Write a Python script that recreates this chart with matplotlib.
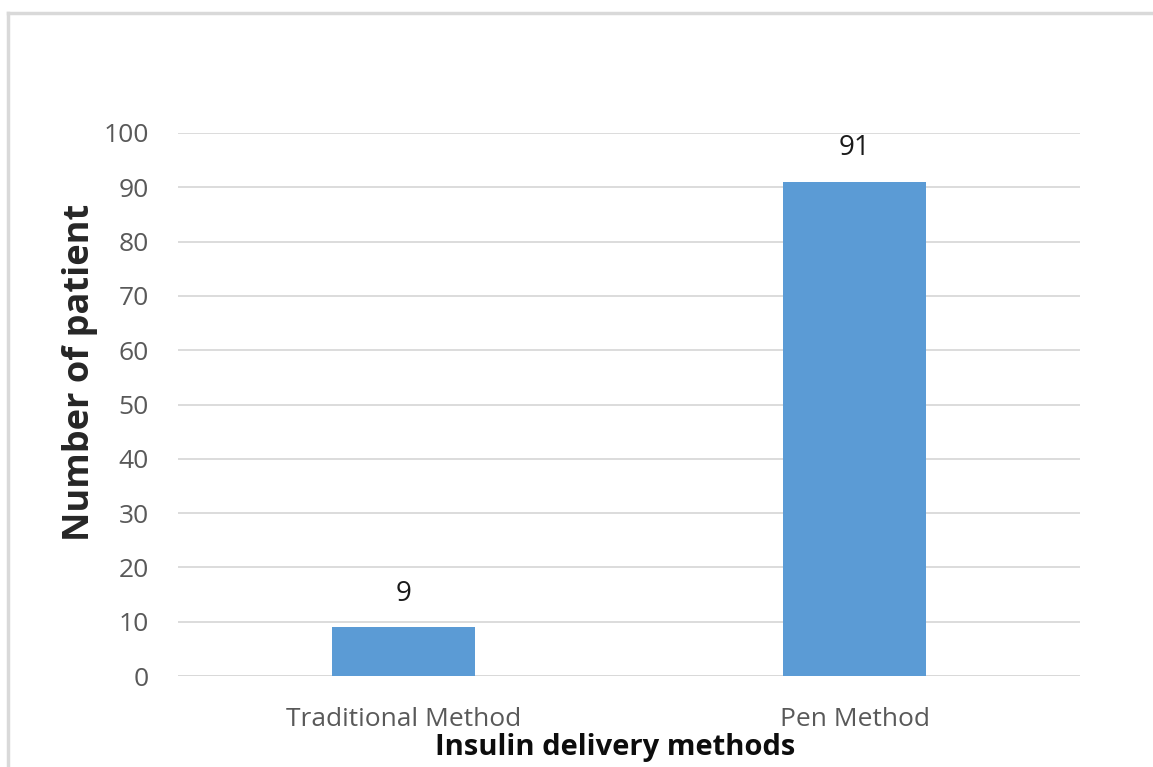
import matplotlib.pyplot as plt
from matplotlib.lines import Line2D

BAR   = "#5B9BD5"
GRID  = "#D9D9D9"
TICK  = "#595959"
FRAME = "#D9D9D9"

methods  = ["Traditional Method", "Pen Method"]
patients = [9, 91]
yticks   = [0, 10, 20, 30, 40, 50, 60, 70, 80, 90, 100]

plt.rcParams["font.family"] = ["Open Sans", "DejaVu Sans"]

fig = plt.figure(figsize=(11.53, 7.67), dpi=100)
ax = fig.add_axes([178 / 1153, 1 - 676 / 767, 902 / 1153, 543 / 767])

x = range(len(methods))
bars = ax.bar(x, patients, width=0.315, color=BAR, zorder=3)
for b, v in zip(bars, patients):
    ax.annotate(f"{v}", (b.get_x() + b.get_width() / 2, v),
                xytext=(0, 14), textcoords="offset points",
                ha="center", va="bottom", fontsize=20, color="#1a1a1a")

ax.set_xlim(-0.5, 1.5)
ax.set_ylim(0, 100)
ax.set_yticks(yticks)
ax.set_xticks(list(x))
ax.set_xticklabels(methods)
ax.yaxis.grid(True, color=GRID, lw=1.3, zorder=0)
ax.tick_params(axis="both", length=0, colors=TICK, labelsize=19)
ax.tick_params(axis="y", pad=21)
ax.tick_params(axis="x", pad=22)
for s in ax.spines.values():
    s.set_visible(False)
ax.axhline(0, color=GRID, lw=1.3, zorder=1)

fig.text(80 / 1153, 1 - 372 / 767, "Number of patient", rotation=90,
         ha="center", va="center", fontsize=26, fontweight="bold",
         color="#262626")
fig.text(615 / 1153, 1 - 748 / 767, "Insulin delivery methods",
         ha="center", va="center", fontsize=21, fontweight="bold",
         color="#0d0d0d")

# outer chart frame (top and left edges)
fig.add_artist(Line2D([8 / 1153, 1], [1 - 13 / 767] * 2,
                      transform=fig.transFigure, color=FRAME, lw=2.5))
fig.add_artist(Line2D([8 / 1153] * 2, [0, 1 - 13 / 767],
                      transform=fig.transFigure, color=FRAME, lw=2.5))

fig.savefig("out.png", dpi=100, facecolor="white")
